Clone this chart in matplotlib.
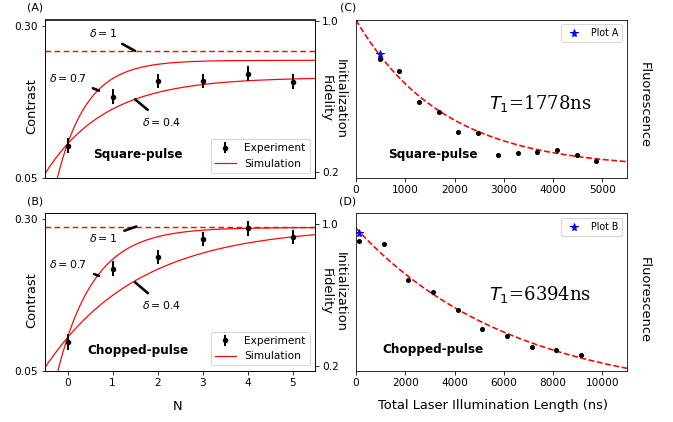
import numpy as np
import matplotlib
matplotlib.use("Agg")
import matplotlib.pyplot as plt

# ---------------------------------------------------------------------------
# Data
# ---------------------------------------------------------------------------

# (A) square-pulse contrast vs N
n_exp       = [0, 1, 2, 3, 4, 5]
contrast_a  = [0.1031, 0.1837, 0.2100, 0.2100, 0.2215, 0.2084]
err_a       = [0.0125, 0.012, 0.0118, 0.0118, 0.0122, 0.0122]
# (B) chopped-pulse contrast vs N
contrast_b  = [0.0972, 0.2175, 0.2378, 0.2665, 0.2840, 0.2708]
err_b       = [0.0127, 0.0122, 0.0115, 0.0118, 0.0118, 0.0115]

# simulation curves: c(N) = c_inf - (c_inf - c0) * r**N
sim_a = {"c0": 0.106, "delta1": 0.259,
         "0.7": (0.2436, 0.22), "0.4": (0.2156, 0.477)}
sim_b = {"c0": 0.1044, "delta1": 0.2872,
         "0.7": (0.2856, 0.29), "0.4": (0.287, 0.62)}

# (C) fluorescence vs total illumination, square pulse
x_c    = [480, 880, 1280, 1680, 2080, 2480, 2880, 3280, 3680, 4080, 4480, 4880]
fluo_c = [0.797, 0.735, 0.571, 0.519, 0.410, 0.404,
          0.289, 0.300, 0.304, 0.317, 0.291, 0.256]
star_c = (490, 0.822)
fit_c  = {"T1": 1778, "amp": 0.786, "off": 0.218}

# (D) chopped pulse
x_d    = [130, 1130, 2130, 3130, 4130, 5130, 6130, 7130, 8130, 9130]
fluo_d = [0.904, 0.887, 0.684, 0.618, 0.512, 0.407,
          0.366, 0.303, 0.288, 0.262]
star_d = (130, 0.951)
fit_d  = {"T1": 6394, "amp": 0.963, "off": 0.013}

W, H = 673, 422


def fx(px):
    return px / W


def fy(py):
    return 1 - py / H


fig = plt.figure(figsize=(W / 72, H / 72), dpi=72)

ax_a = fig.add_axes([fx(45), fy(178), fx(270), (178 - 19.5) / H])
ax_b = fig.add_axes([fx(45), fy(370.7), fx(270), (370.7 - 213.3) / H])
ax_c = fig.add_axes([fx(356), fy(178), fx(271), (178 - 19.5) / H])
ax_d = fig.add_axes([fx(356), fy(370.7), fx(271), (370.7 - 213.3) / H])


def draw_left(ax, c_exp, err, sim, ylim_r, title, title_y, notes):
    nn = np.linspace(-0.5, 5.5, 300)
    ax.axhline(sim["delta1"], color="red", ls=(0, (4, 2.5)), lw=1.4)
    for key in ["0.7", "0.4"]:
        c_inf, r = sim[key]
        lab = "Simulation" if key == "0.7" else None
        ax.plot(nn, c_inf - (c_inf - sim["c0"]) * r ** nn, color="red",
                lw=1.2, label=lab)
    ax.errorbar(n_exp, c_exp, yerr=err, fmt="o", color="black", ms=4.5,
                elinewidth=2, capsize=0, label="Experiment")
    ax.set_xlim(-0.5, 5.5)
    ax.set_ylim(0.05, 0.3107 if ax is ax_a else 0.309)
    ax.set_yticks([0.05, 0.30])
    ax.set_yticklabels(["0.05", "0.30"], fontsize=10.5)
    handles, labels = ax.get_legend_handles_labels()
    order = [labels.index("Experiment"), labels.index("Simulation")]
    ax.legend([handles[i] for i in order], [labels[i] for i in order],
              loc="lower right", fontsize=10.5)
    ax.text(0.345, title_y, title, transform=ax.transAxes, fontsize=12,
            fontweight="bold", ha="center", va="center")
    for txt, xy, xyt in notes:
        ax.annotate(txt, xy=xy, xytext=xyt, fontsize=11, ha="center",
                    va="center",
                    arrowprops=dict(arrowstyle="-", lw=2.6, color="black",
                                    shrinkA=6, shrinkB=0))
    tw = ax.twinx()
    tw.set_ylim(*ylim_r)
    tw.set_yticks([0.2, 1.0])
    tw.set_yticklabels(["0.2", "1.0"], fontsize=10.5)


draw_left(ax_a, contrast_a, err_a, sim_a, (0.167, 1.006), "Square-pulse", 0.151,
          [(r"$\delta = 1$", (1.5, 0.259), (0.78, 0.2885)),
           (r"$\delta = 0.7$", (0.70, 0.1936), (0.0, 0.2145)),
           (r"$\delta = 0.4$", (1.5, 0.1794), (2.1, 0.1426))])
ax_a.set_xticks([])

draw_left(ax_b, contrast_b, err_b, sim_b, (0.172, 1.060), "Chopped-pulse", 0.127,
          [(r"$\delta = 1$", (1.53, 0.2872), (0.78, 0.268)),
           (r"$\delta = 0.7$", (0.70, 0.206), (0.0, 0.2258)),
           (r"$\delta = 0.4$", (1.5, 0.1956), (2.1, 0.158))])
ax_b.set_xticks(n_exp)
ax_b.set_xticklabels([str(n) for n in n_exp], fontsize=10.5)


def draw_right(ax, xs, ys, star, fit, xmax, ylim, title, title_y, t1_y, leg):
    xx = np.linspace(0, xmax, 300)
    ax.plot(xx, fit["off"] + fit["amp"] * np.exp(-xx / fit["T1"]),
            color="red", ls="--", lw=1.6)
    ax.plot(xs, ys, "o", color="black", ms=4)
    ax.plot([star[0]], [star[1]], "*", color="blue", ms=8, label=leg)
    ax.set_xlim(0, xmax)
    ax.set_ylim(*ylim)
    ax.set_yticks([])
    ax.legend(loc="upper right", fontsize=9.5)
    ax.text(0.284, title_y, title, transform=ax.transAxes, fontsize=12,
            fontweight="bold", ha="center", va="center")
    ax.text(0.679, t1_y, r"$T_1$=%dns" % fit["T1"], transform=ax.transAxes,
            fontsize=18, family="DejaVu Serif", ha="center", va="center")


draw_right(ax_c, x_c, fluo_c, star_c, fit_c, 5500, (0.167, 1.006),
           "Square-pulse", 0.151, 0.471, "Plot A")
ax_c.set_xticks(range(0, 5001, 1000))
ax_c.tick_params(labelsize=10.5)

draw_right(ax_d, x_d, fluo_d, star_d, fit_d, 11000, (0.172, 1.060),
           "Chopped-pulse", 0.132, 0.481, "Plot B")
ax_d.set_xticks(range(0, 10001, 2000))
ax_d.tick_params(labelsize=10.5)

# axis labels and panel letters
for py in [98.75, 292]:
    fig.text(fx(333), fy(py), "Initialization\nFidelity", rotation=270,
             ha="center", va="center", fontsize=13, linespacing=1.1)
fig.text(fx(31.5), fy(106), "Contrast", rotation=90, ha="center",
         va="center", fontsize=13)
fig.text(fx(31.5), fy(300), "Contrast", rotation=90, ha="center",
         va="center", fontsize=13)
fig.text(fx(644), fy(105.5), "Fluorescence", rotation=270, ha="center",
         va="center", fontsize=13)
fig.text(fx(644), fy(300), "Fluorescence", rotation=270, ha="center",
         va="center", fontsize=13)
fig.text(fx(177.7), fy(407), "N", ha="center", va="center", fontsize=13)
fig.text(fx(493), fy(406), "Total Laser Illumination Length (ns)",
         ha="center", va="center", fontsize=13)
for lab, px, py in [("(A)", 35, 7.5), ("(B)", 35, 202),
                    ("(C)", 348, 7.5), ("(D)", 348, 202)]:
    fig.text(fx(px), fy(py), lab, ha="center", va="center", fontsize=11)

fig.savefig("out.png", dpi=72)
